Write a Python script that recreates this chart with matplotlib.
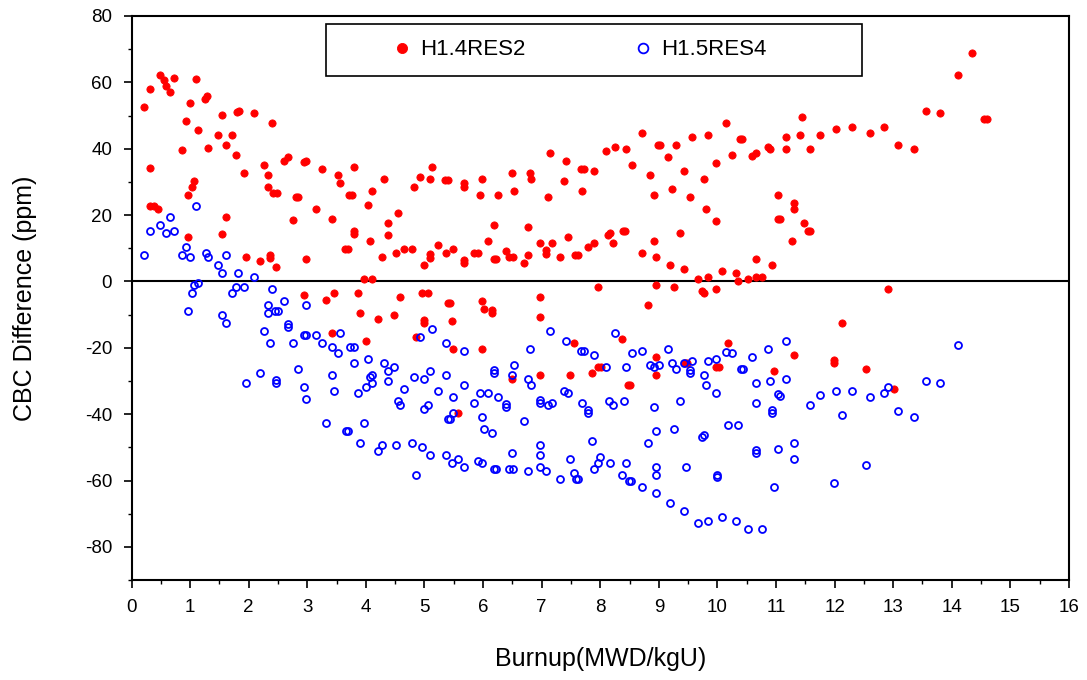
import matplotlib
matplotlib.use("Agg")
import matplotlib.pyplot as plt
from matplotlib.ticker import MultipleLocator
from matplotlib.patches import Rectangle

plt.rcParams['font.family'] = ['Liberation Sans', 'DejaVu Sans']
plt.rcParams['axes.unicode_minus'] = False

# ---- data: H1.4RES2 (red filled) ----
red_x = [0.21, 0.32, 0.49, 0.55, 0.59, 0.66, 0.73, 1.10, 1.00, 1.25, 1.29, 0.93, 1.13, 0.86, 1.31,
         1.54, 1.80, 1.84, 2.09, 2.40, 1.48, 1.71, 1.61, 1.78, 1.92, 2.26, 2.33, 2.33, 2.42, 2.48,
         2.60, 2.67, 0.32, 1.07, 1.03, 0.96, 0.32, 0.38, 0.45, 1.61, 2.76, 0.96, 1.54, 1.95, 2.19,
         2.36, 2.37, 2.47, 2.81,
         2.94, 2.98, 3.25, 3.52, 3.56, 3.80, 2.84, 3.15, 3.42, 3.72, 3.76, 4.04, 4.10, 4.31, 3.80,
         3.80, 4.07, 4.38, 4.55, 4.38, 3.65, 3.69, 2.98, 4.27, 4.51, 4.65, 4.79, 4.82, 4.92, 5.13,
         5.09, 5.35, 5.40, 4.99, 5.09, 5.09, 5.23, 5.37, 5.49, 3.97, 4.10, 2.94, 3.32, 3.46, 3.87,
         4.58, 4.96, 5.06, 5.40, 5.44,
         3.90, 4.21, 4.48, 4.99, 4.99, 5.47, 3.42, 4.00, 4.86, 5.49,
         5.67, 5.67, 5.98, 5.95, 6.25, 6.49, 6.53, 6.80, 6.82, 7.14, 7.41, 7.11, 7.38, 7.67, 7.72,
         7.89, 7.69, 8.10, 8.25, 5.67, 5.67, 5.84, 5.91, 6.08, 6.18, 6.18, 6.22, 6.39, 6.45, 6.51,
         6.70, 6.77, 6.77, 6.97, 7.07, 7.07, 7.18, 7.31, 7.45, 7.57, 7.62, 7.79, 7.89, 8.13, 8.17,
         8.22, 7.96, 5.98, 6.97,
         6.02, 6.15, 6.15, 6.97, 5.98, 7.55, 6.49, 6.97, 7.48, 7.86, 7.97, 8.02, 5.57,
         8.44, 8.71, 8.54, 8.98, 9.02, 9.16, 9.29, 8.85, 9.43, 9.56, 9.84, 10.15, 10.38, 10.42, 10.25,
         9.98, 9.77, 10.59, 10.66, 10.86, 10.90, 8.92, 9.22, 9.53, 9.80, 9.98, 8.38, 8.42, 8.92, 9.36,
         8.71, 8.95, 9.19, 9.43, 9.67, 9.84, 10.08, 10.32, 10.35, 10.52, 10.66, 10.76, 10.66, 10.93,
         8.95, 9.26, 9.73, 9.77, 9.98,
         8.81, 8.37, 8.95, 8.95, 8.47, 8.51, 9.44, 9.48, 10.18, 9.98, 10.02, 10.96,
         11.17, 11.17, 11.44, 11.41, 11.58, 11.75, 12.02, 12.30, 12.60, 12.84, 13.08, 13.35, 13.56,
         11.03, 11.31, 11.31, 11.03, 11.07, 11.48, 11.54, 11.58, 11.27, 12.91,
         12.13, 11.31, 11.99, 11.99, 12.53, 13.01,
         14.35, 14.11, 13.80, 14.55, 14.60]
red_y = [52.7, 58.1, 62.3, 60.6, 58.9, 57.1, 61.2, 61.1, 53.9, 55.0, 56.0, 48.4, 45.5, 39.5, 40.2,
         50.2, 51.0, 51.5, 50.8, 47.8, 44.2, 44.2, 41.2, 38.2, 32.8, 35.2, 32.2, 28.5, 26.7, 26.7,
         36.3, 37.5, 34.1, 30.3, 28.5, 26.1, 22.6, 22.6, 21.9, 19.5, 18.4, 13.5, 14.2, 7.4, 6.2,
         8.0, 7.2, 4.4, 25.4,
         36.0, 36.2, 34.0, 32.2, 29.7, 34.6, 25.5, 21.9, 18.9, 26.1, 26.1, 23.1, 27.3, 31.0, 14.3,
         15.3, 12.3, 17.7, 20.7, 14.1, 9.9, 9.9, 6.8, 7.4, 8.6, 9.9, 9.9, 28.5, 31.6, 34.6,
         31.0, 30.6, 30.6, 5.0, 7.2, 8.2, 11.1, 8.6, 9.9, 0.8, 0.8, -4.0, -5.7, -3.4, -3.4,
         -4.6, -3.4, -3.4, -6.4, -6.4,
         -9.4, -11.2, -10.0, -11.6, -12.6, -11.8, -15.5, -17.9, -16.7, -20.3,
         28.6, 29.6, 31.0, 26.1, 26.1, 32.8, 27.3, 32.8, 31.0, 38.8, 36.4, 25.5, 30.4, 34.0, 34.0,
         33.4, 27.3, 39.4, 40.6, 5.6, 6.4, 8.6, 8.6, 12.3, 17.1, 6.8, 6.8, 9.3, 7.4, 7.4,
         5.6, 16.5, 8.0, 11.7, 8.4, 9.4, 11.7, 7.4, 13.5, 8.0, 8.0, 10.5, 11.7, 14.1, 14.7,
         11.7, -1.6, -5.8, -4.6,
         -8.2, -8.7, -9.5, -10.6, -20.3, -18.5, -29.3, -28.1, -28.1, -27.5, -25.7, -25.7, -39.6,
         40.0, 44.8, 35.2, 41.2, 41.2, 37.6, 41.2, 32.2, 33.4, 43.6, 44.2, 47.8, 43.0, 43.0, 38.2,
         35.8, 31.0, 37.9, 38.8, 40.6, 40.0, 26.1, 27.9, 25.5, 21.9, 18.3, 15.3, 15.3, 12.3, 14.7,
         8.6, 7.4, 5.0, 3.8, 0.8, 1.4, 3.2, 2.6, 0.2, 0.8, 1.4, 1.4, 6.8, 5.0,
         -1.0, -1.6, -2.8, -3.4, -2.2,
         -7.0, -17.3, -22.7, -28.1, -31.1, -31.1, -24.5, -24.5, -18.5, -25.7, -25.7, -26.9,
         43.6, 40.0, 49.6, 44.2, 40.0, 44.2, 46.0, 46.6, 44.8, 46.6, 41.2, 40.0, 51.4,
         26.1, 23.7, 21.9, 18.9, 18.9, 17.7, 15.3, 15.3, 12.3, -2.2,
         -12.4, -22.1, -23.8, -24.6, -26.3, -32.3,
         68.9, 62.3, 50.8, 49.0, 49.0]

# ---- data: H1.5RES4 (blue open) ----
blue_x = [1.10, 0.66, 0.49, 0.32, 0.59, 0.73, 0.21, 0.93, 0.86, 1.00, 1.27, 1.31, 1.61, 1.48, 1.54,
          1.82, 2.09, 2.40, 1.03, 1.07, 1.13, 1.71, 1.78, 1.92, 2.60, 2.33, 2.33, 2.45, 2.50, 0.96,
          1.54, 1.61, 2.67, 2.67, 2.26, 2.36, 2.76, 2.19, 1.95, 2.47, 2.47,
          2.98, 2.94, 2.98, 3.15, 3.25, 3.42, 3.52, 3.56, 3.73, 3.80, 3.80, 4.04, 4.31, 4.48, 4.38,
          4.10, 4.07, 4.10, 4.00, 4.38, 3.87, 3.42, 2.84, 2.94, 2.98, 3.46, 3.32, 3.66, 3.70, 3.97,
          3.90, 4.27, 4.21, 4.51, 4.79, 4.96, 5.09, 5.37, 5.47, 4.86, 4.65, 4.55, 4.58, 4.99, 5.06,
          5.23, 4.82, 4.99, 5.09, 5.37, 4.92, 5.13, 5.37, 5.40, 5.44, 5.49, 5.49,
          5.67, 6.18, 6.18, 6.49, 6.53, 6.80, 7.14, 7.41, 7.68, 7.72, 7.89, 8.10, 8.25, 6.77, 6.82,
          7.38, 7.45, 5.67, 5.95, 6.08, 6.25, 5.84, 6.39, 6.39, 6.97, 6.97, 7.11, 7.18, 7.69, 7.79,
          7.79, 8.15, 8.22, 5.98, 6.02, 6.15, 6.70, 6.97, 6.97, 6.49, 7.86, 5.57, 5.67, 5.91, 5.98,
          6.18, 6.22, 6.45, 6.51, 6.77, 6.97, 7.07, 7.31, 7.48, 7.55, 7.58, 7.62, 7.89, 7.96, 7.99,
          8.17,
          8.54, 8.71, 8.44, 8.85, 8.92, 9.00, 9.16, 9.22, 9.29, 9.43, 9.56, 9.53, 9.53, 9.77, 9.80,
          9.84, 9.98, 10.15, 10.25, 9.98, 10.40, 10.44, 10.59, 10.86, 10.66, 10.90, 10.66, 10.93, 10.93,
          8.40, 8.92, 9.36, 10.18, 10.35, 8.95, 9.26, 8.81, 9.73, 9.77, 10.66, 10.66, 8.44, 8.37,
          8.49, 8.53, 8.95, 8.95, 9.46, 10.00, 10.00, 8.71, 8.95, 9.19, 9.43, 9.67, 9.84, 10.08, 10.32,
          10.52, 10.76, 10.96,
          11.17, 11.17, 11.03, 11.07, 11.58, 11.75, 12.02, 12.30, 12.13, 12.60, 12.84, 12.91, 13.08,
          13.35, 13.56, 11.03, 11.31, 11.31, 12.53, 11.99, 14.11, 13.80]
blue_y = [22.6, 19.5, 17.1, 15.3, 14.7, 15.3, 8.0, 10.5, 8.0, 7.4, 8.6, 7.4, 8.0, 5.0, 2.6,
          2.6, 1.4, -2.2, -3.4, -1.0, -0.4, -3.4, -1.6, -1.6, -5.8, -7.0, -9.4, -8.8, -8.8, -8.8,
          -10.0, -12.4, -12.9, -13.7, -14.9, -18.5, -18.5, -27.5, -30.5, -29.8, -30.6,
          -7.0, -16.1, -16.1, -16.1, -18.5, -19.7, -21.5, -15.5, -19.7, -19.7, -24.5, -23.3, -24.5, -25.7, -26.9,
          -28.1, -28.7, -30.5, -31.7, -29.9, -33.5, -28.1, -26.3, -31.7, -35.4, -32.9, -42.6, -45.0, -45.0, -42.6,
          -48.6, -49.2, -51.0, -49.2, -48.6, -49.8, -52.2, -52.2, -54.6, -58.3, -32.3, -36.0, -37.2, -38.4, -37.2,
          -32.9, -28.7, -29.3, -26.9, -28.1, -16.7, -14.3, -18.5, -41.4, -41.4, -39.6, -34.7,
          -20.9, -26.8, -27.6, -28.1, -25.1, -20.3, -14.9, -17.9, -20.9, -20.9, -22.1, -25.7, -15.5, -29.3, -31.1,
          -32.9, -33.5, -31.1, -33.5, -33.5, -34.7, -36.5, -37.0, -37.8, -35.8, -36.6, -37.1, -36.5, -36.5, -38.8,
          -39.6, -35.9, -37.1, -40.8, -44.4, -45.6, -42.0, -49.2, -52.2, -51.6, -48.0, -53.4, -55.8, -54.0, -54.6,
          -56.4, -56.4, -56.4, -56.4, -57.0, -55.8, -57.0, -59.4, -53.4, -57.6, -59.4, -59.4, -56.4, -54.6, -52.8,
          -54.6,
          -21.5, -20.9, -25.7, -25.1, -25.7, -25.1, -20.3, -24.5, -26.3, -24.5, -23.9, -26.8, -27.6, -28.1, -31.1,
          -23.9, -23.3, -21.2, -21.5, -33.5, -26.3, -26.3, -22.7, -20.3, -30.5, -29.9, -36.5, -38.9, -39.7,
          -35.9, -37.7, -35.9, -43.2, -43.2, -45.0, -44.4, -48.6, -46.8, -46.2, -50.9, -51.7, -54.6, -58.3,
          -60.1, -60.1, -55.8, -58.3, -55.8, -58.2, -58.9, -61.9, -63.7, -66.7, -69.1, -72.7, -72.1, -70.9, -72.1,
          -74.5, -74.5, -61.9,
          -17.9, -29.3, -33.8, -34.4, -37.2, -34.1, -32.9, -32.9, -40.2, -34.7, -33.5, -31.7, -39.0,
          -40.8, -29.9, -50.4, -48.6, -53.4, -55.2, -60.7, -19.1, -30.5]

series_labels = ["H1.4RES2", "H1.5RES4"]
x_label = "Burnup(MWD/kgU)"
y_label = "CBC Difference (ppm)"

fig = plt.figure(figsize=(10.87, 6.8), dpi=100)
ax = fig.add_axes([0.121, 0.147, 0.8624, 0.8295])

ax.plot(red_x, red_y, linestyle='none', marker='o', markersize=5.2,
        markerfacecolor='#ff0000', markeredgecolor='#ff0000', markeredgewidth=0.6,
        label=series_labels[0], zorder=3)
ax.plot(blue_x, blue_y, linestyle='none', marker='o', markersize=5.0,
        markerfacecolor='none', markeredgecolor='#0000ff', markeredgewidth=1.3,
        label=series_labels[1], zorder=3)

ax.axhline(0, color='black', linewidth=1.5, zorder=2)

ax.set_xlim(0, 16)
ax.set_ylim(-90, 80)
ax.xaxis.set_major_locator(MultipleLocator(1))
ax.xaxis.set_minor_locator(MultipleLocator(0.5))
ax.yaxis.set_major_locator(MultipleLocator(20))
ax.yaxis.set_minor_locator(MultipleLocator(10))
ax.tick_params(which='major', direction='out', length=6, width=1.2, labelsize=13.5,
               pad=8, top=False, right=False)
ax.tick_params(which='minor', direction='out', length=3, width=1.0, top=False, right=False)
for s in ax.spines.values():
    s.set_linewidth(1.5)

ax.set_xlabel(x_label, fontsize=18, labelpad=22)
ax.set_ylabel(y_label, fontsize=18, labelpad=34)

# legend frame (drawn as a fixed box) + frameless legend inside it
frame = Rectangle((0.2075, 0.8936), 0.5718, 0.0922, transform=ax.transAxes,
                  facecolor='white', edgecolor='black', linewidth=1.2, zorder=4)
ax.add_patch(frame)
leg = ax.legend(loc='center left', bbox_to_anchor=(0.2767, 0.9397),
                ncol=2, frameon=False, fontsize=16, handlelength=1.0,
                handletextpad=0.31, columnspacing=4.8, borderpad=0, borderaxespad=0,
                markerscale=1.4)
leg.set_zorder(5)

fig.savefig("out.png", dpi=100)
